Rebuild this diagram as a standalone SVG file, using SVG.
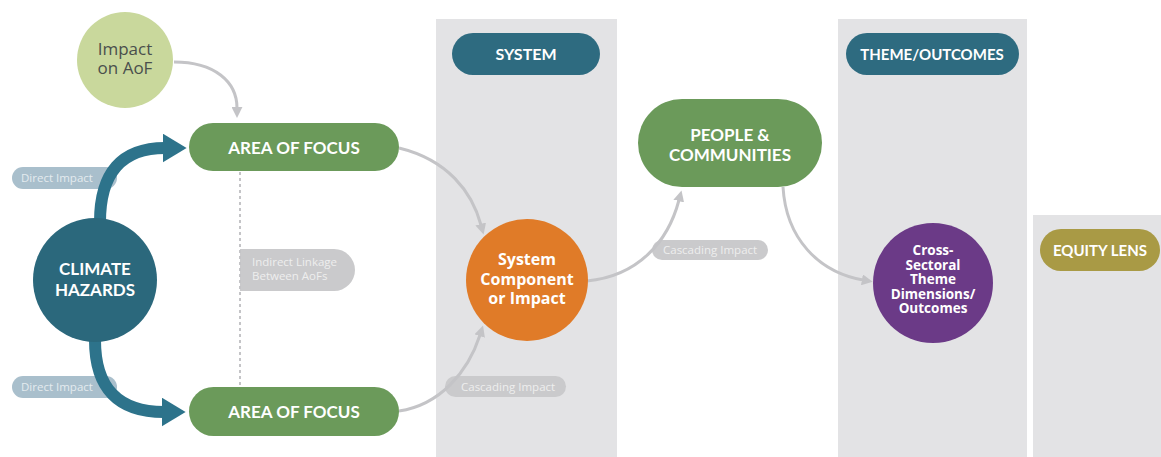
<svg xmlns="http://www.w3.org/2000/svg" width="1161" height="457" viewBox="0 0 1161 457">
<defs>
<style>
.panel{fill:#e3e3e5}
.head{font-family:Lato,"Liberation Sans",sans-serif;font-weight:700;fill:#ffffff;text-anchor:middle}
.body{font-family:"Open Sans","Liberation Sans",sans-serif;text-anchor:middle}
.lbl{font-family:"Open Sans","Liberation Sans",sans-serif;font-size:11.5px}
.gray{fill:none;stroke:#c4c4c7;stroke-width:3}
.teal{fill:none;stroke:#2d738b;stroke-width:12}
</style>
<marker id="ga" viewBox="0 0 10 10" refX="1" refY="5" markerWidth="11" markerHeight="11" markerUnits="userSpaceOnUse" orient="auto">
<path d="M0,0 L10,5 L0,10 Z" fill="#c4c4c7"/>
</marker>
<marker id="ta" viewBox="0 0 10 10" refX="1" refY="5" markerWidth="24" markerHeight="29" markerUnits="userSpaceOnUse" orient="auto" preserveAspectRatio="none">
<path d="M0,0 L10,5 L0,10 Z" fill="#2d738b"/>
</marker>
</defs>
<rect width="1161" height="457" fill="#ffffff"/>

<g id="panels">
<rect class="panel" x="436" y="19" width="181" height="438"/>
<rect class="panel" x="838" y="19" width="189" height="438"/>
<rect class="panel" x="1033" y="215" width="128" height="242"/>
</g>

<g id="labels">
<g id="label-direct-top"><rect x="12" y="167" width="105" height="22" rx="11" fill="#a9bfcc"/><text class="lbl" x="21" y="182" fill="#e4ebef">Direct Impact</text></g>
<g id="label-direct-bottom"><rect x="12" y="376" width="105" height="22" rx="11" fill="#a9bfcc"/><text class="lbl" x="21" y="391" fill="#e4ebef">Direct Impact</text></g>
<g id="label-indirect"><path d="M240,249 H334 A21,21 0 0 1 334,291 H240 Z" fill="#cacacc"/><text class="lbl" x="252" y="266" fill="#eeeeee">Indirect Linkage</text><text class="lbl" x="252" y="280" fill="#eeeeee">Between AoFs</text></g>
<g id="label-cascade-low"><rect x="445" y="376" width="121" height="21" rx="10.5" fill="#cacacc"/><text class="lbl" x="461" y="390.5" fill="#eeeeee">Cascading Impact</text></g>
<g id="label-cascade-up"><rect x="652" y="240" width="116" height="20" rx="10" fill="#cacacc"/><text class="lbl" x="663" y="254" fill="#eeeeee">Cascading Impact</text></g>
</g>

<line x1="240" y1="172" x2="240" y2="386" stroke="#c4c4c7" stroke-width="2" stroke-dasharray="3,3"/>

<g id="connectors">
<path class="gray" d="M174,62 C215,62 237,82 237,108" marker-end="url(#ga)"/>
<path class="gray" d="M399,148 C448,160 472,192 481,225" marker-end="url(#ga)"/>
<path class="gray" d="M399,411 C440,405 468,372 480,335" marker-end="url(#ga)"/>
<path class="gray" d="M587,281 C638,276 668,242 679,200" marker-end="url(#ga)"/>
<path class="gray" d="M783,187 C786,238 818,272 863,280" marker-end="url(#ga)"/>
<path class="teal" d="M100,222 Q100,148 165,148" marker-end="url(#ta)"/>
<path class="teal" d="M95,340 Q95,412 164,412" marker-end="url(#ta)"/>
</g>

<g id="node-impact-aof">
<circle cx="125" cy="60" r="48" fill="#c9d89c"/>
<text class="body" x="125" y="55" font-size="17" fill="#4a4f4c">Impact</text>
<text class="body" x="125" y="74" font-size="17" fill="#4a4f4c">on AoF</text>
</g>

<g id="node-aof-top">
<rect x="189" y="123" width="210" height="48" rx="24" fill="#6b9a5a"/>
<text class="head" x="294" y="154" font-size="17">AREA OF FOCUS</text>
</g>

<g id="node-aof-bottom">
<rect x="189" y="387" width="210" height="49" rx="24.5" fill="#6b9a5a"/>
<text class="head" x="294" y="418" font-size="17">AREA OF FOCUS</text>
</g>

<g id="node-climate">
<circle cx="95" cy="280" r="62" fill="#2b687c"/>
<text class="head" x="95" y="275" font-size="17">CLIMATE</text>
<text class="head" x="95" y="296" font-size="17">HAZARDS</text>
</g>

<g id="node-system-header">
<rect x="452" y="33" width="148" height="42" rx="21" fill="#2e6b80"/>
<text class="head" x="526" y="60" font-size="16">SYSTEM</text>
</g>

<g id="node-system-component">
<circle cx="527" cy="280" r="61" fill="#e07b28"/>
<text class="body" x="527" y="265" font-size="16" font-weight="700" fill="#ffffff">System</text>
<text class="body" x="527" y="285" font-size="16" font-weight="700" fill="#ffffff">Component</text>
<text class="body" x="527" y="304" font-size="16" font-weight="700" fill="#ffffff">or Impact</text>
</g>

<g id="node-people">
<rect x="638" y="99" width="184" height="88" rx="44" fill="#6b9a5a"/>
<text class="head" x="730" y="141" font-size="17">PEOPLE &amp;</text>
<text class="head" x="730" y="161" font-size="17">COMMUNITIES</text>
</g>

<g id="node-theme-header">
<rect x="846" y="33" width="173" height="42" rx="21" fill="#2e6b80"/>
<text class="head" x="932" y="60" font-size="15">THEME/OUTCOMES</text>
</g>

<g id="node-cross-sectoral">
<circle cx="933" cy="283" r="60" fill="#6b3a87"/>
<text class="body" x="933" y="255" font-size="13.5" font-weight="700" fill="#ffffff">Cross-</text>
<text class="body" x="933" y="269.5" font-size="13.5" font-weight="700" fill="#ffffff">Sectoral</text>
<text class="body" x="933" y="284" font-size="13.5" font-weight="700" fill="#ffffff">Theme</text>
<text class="body" x="933" y="298.5" font-size="13.5" font-weight="700" fill="#ffffff">Dimensions/</text>
<text class="body" x="933" y="313" font-size="13.5" font-weight="700" fill="#ffffff">Outcomes</text>
</g>

<g id="node-equity">
<rect x="1040" y="229" width="120" height="42" rx="21" fill="#a99a45"/>
<text class="head" x="1100" y="256" font-size="15">EQUITY LENS</text>
</g>
</svg>
